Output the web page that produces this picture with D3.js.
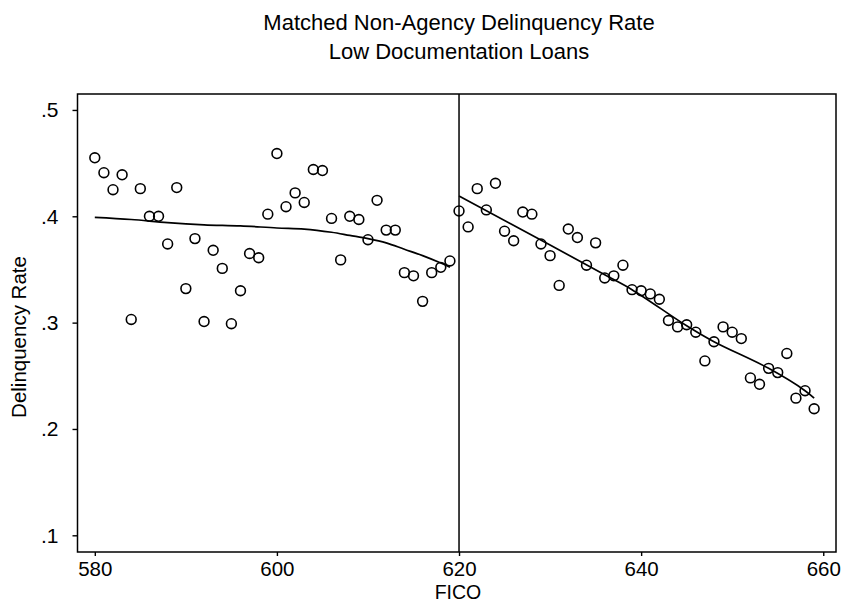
<!DOCTYPE html>
<html>
<head>
<meta charset="utf-8">
<script src="https://cdn.jsdelivr.net/npm/d3@7"></script>
<style>
  html, body { margin: 0; padding: 0; background: #fff; }
  svg { display: block; font-family: "Liberation Sans", Arial, sans-serif; }
</style>
</head>
<body>
<svg id="chart" width="843" height="602"></svg>
<script>
// ---- data ----
const titleLines = ["Matched Non-Agency Delinquency Rate", "Low Documentation Loans"];
const xLabel = "FICO";
const yLabel = "Delinquency Rate";
const xTicks = [580, 600, 620, 640, 660];
const yTicks = [0.1, 0.2, 0.3, 0.4, 0.5];
const cutoff = 620;

const fico = d3.range(580, 660);
const rate = [
  0.455, 0.441, 0.425, 0.439, 0.303, 0.426, 0.400, 0.400, 0.374, 0.427,
  0.332, 0.379, 0.301, 0.368, 0.351, 0.299, 0.330, 0.365, 0.361, 0.402,
  0.459, 0.409, 0.422, 0.413, 0.444, 0.443, 0.398, 0.359, 0.400, 0.397,
  0.378, 0.415, 0.387, 0.387, 0.347, 0.344, 0.320, 0.347, 0.352, 0.358,
  0.405, 0.390, 0.426, 0.406, 0.431, 0.386, 0.377, 0.404, 0.402, 0.374,
  0.363, 0.335, 0.388, 0.380, 0.354, 0.375, 0.342, 0.344, 0.354, 0.331,
  0.330, 0.327, 0.322, 0.302, 0.296, 0.298, 0.291, 0.264, 0.282, 0.296,
  0.291, 0.285, 0.248, 0.242, 0.257, 0.253, 0.271, 0.229, 0.236, 0.219
];

const leftFitX = [580, 584, 588, 592, 596, 600, 603, 606, 608, 610, 612, 614, 616, 618, 619];
const leftFitY = [0.399, 0.397, 0.394, 0.392, 0.391, 0.389, 0.388, 0.385, 0.382, 0.379, 0.375, 0.369, 0.363, 0.356, 0.352];
const rightFitX = [620, 630, 636, 639, 645, 648, 654, 658, 659];
const rightFitY = [0.419, 0.373, 0.345, 0.331, 0.297, 0.282, 0.257, 0.236, 0.229];

// ---- layout ----
const plot = { left: 77.5, right: 836, top: 94, bottom: 552 };
const svg = d3.select("#chart");

const x = d3.scaleLinear().domain([578.1, 661.4]).range([plot.left, plot.right]);
const y = d3.scaleLinear().domain([0.0843, 0.515]).range([plot.bottom, plot.top]);

// title
svg.append("g").selectAll("text").data(titleLines).join("text")
  .attr("x", 459).attr("y", (d, i) => 30 + i * 29)
  .attr("text-anchor", "middle").attr("font-size", 22).attr("fill", "#000")
  .text(d => d);

// frame
svg.append("rect")
  .attr("x", plot.left).attr("y", plot.top)
  .attr("width", plot.right - plot.left).attr("height", plot.bottom - plot.top)
  .attr("fill", "none").attr("stroke", "#000").attr("stroke-width", 1.5);

// axes
const fmt = d => d3.format(".1f")(d).replace(/^0/, "");
const yAxis = svg.append("g").attr("transform", `translate(${plot.left},0)`)
  .call(d3.axisLeft(y).tickValues(yTicks).tickFormat(fmt).tickSize(5).tickPadding(14));
const xAxis = svg.append("g").attr("transform", `translate(0,${plot.bottom})`)
  .call(d3.axisBottom(x).tickValues(xTicks).tickFormat(d3.format("d")).tickSize(4).tickPadding(5));
[xAxis, yAxis].forEach(g => {
  g.select(".domain").remove();
  g.selectAll(".tick line").attr("stroke", "#000").attr("stroke-width", 1.4);
  g.selectAll(".tick text").attr("fill", "#000")
    .attr("font-family", "Liberation Sans, Arial, sans-serif");
});
yAxis.selectAll(".tick text").attr("font-size", 21);
xAxis.selectAll(".tick text").attr("font-size", 20.5);

// axis titles
svg.append("text").attr("x", 458).attr("y", 599).attr("text-anchor", "middle")
  .attr("font-size", 19.5).attr("fill", "#000").text(xLabel);
svg.append("text").attr("transform", `translate(26,337) rotate(-90)`)
  .attr("text-anchor", "middle").attr("font-size", 20.5).attr("fill", "#000").text(yLabel);

// cutoff line
svg.append("line")
  .attr("x1", x(cutoff)).attr("x2", x(cutoff))
  .attr("y1", plot.top).attr("y2", plot.bottom)
  .attr("stroke", "#000").attr("stroke-width", 1.5);

// fit lines
const line = d3.line().x(d => x(d[0])).y(d => y(d[1])).curve(d3.curveCatmullRom);
svg.append("path").datum(leftFitX.map((v, i) => [v, leftFitY[i]]))
  .attr("d", line).attr("fill", "none").attr("stroke", "#000").attr("stroke-width", 1.7);
svg.append("path").datum(rightFitX.map((v, i) => [v, rightFitY[i]]))
  .attr("d", line).attr("fill", "none").attr("stroke", "#000").attr("stroke-width", 1.7);

// points
svg.append("g").selectAll("circle").data(fico.map((f, i) => [f, rate[i]])).join("circle")
  .attr("cx", d => x(d[0])).attr("cy", d => y(d[1])).attr("r", 4.9)
  .attr("fill", "none").attr("stroke", "#000").attr("stroke-width", 1.6);
</script>
</body>
</html>
